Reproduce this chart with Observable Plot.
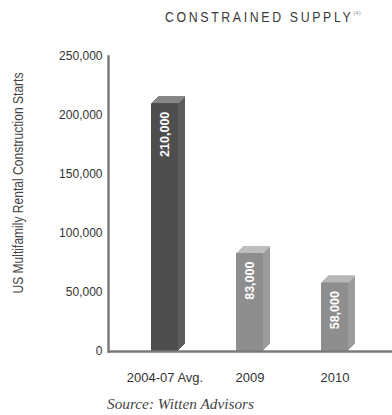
<!DOCTYPE html>
<html>
<head>
<meta charset="utf-8">
<script src="https://cdn.jsdelivr.net/npm/d3@7"></script>
<script src="https://cdn.jsdelivr.net/npm/@observablehq/plot@0.6"></script>
<style>
  html, body { margin: 0; padding: 0; background: #fff; }
  body { width: 392px; height: 415px; position: relative; overflow: hidden; }
  #title { position: absolute; left: 165px; top: 9px; font-family: "Liberation Sans", Arial, sans-serif; font-size: 14px; letter-spacing: 3px; color: #3a3a3a; white-space: nowrap; transform: scaleX(0.88); transform-origin: left center; }
  #title sup { font-size: 6px; letter-spacing: 0.5px; color: #888; vertical-align: 7px; }
  #chart { position: absolute; left: 0; top: 40px; }
  #caption { position: absolute; left: 107px; top: 395px; font-family: "Liberation Serif", "DejaVu Serif", serif; font-style: italic; font-size: 15.3px; color: #444; white-space: nowrap; }
</style>
</head>
<body>
<div id="title">CONSTRAINED SUPPLY<sup>(4)</sup></div>
<div id="chart"></div>
<div id="caption">Source: Witten Advisors</div>
<script>
const categories = ["2004-07 Avg.", "2009", "2010"];
const starts = [210000, 83000, 58000];
const yTicks = [0, 50000, 100000, 150000, 200000, 250000];
const yLabel = "US Multifamily Rental Construction Starts";

const data = categories.map((c, i) => ({cat: c, value: starts[i]}));

const front = {"2004-07 Avg.": "#4e4e4e", "2009": "#8e8e8e", "2010": "#8e8e8e"};
const side  = {"2004-07 Avg.": "#5c5c5c", "2009": "#9c9c9c", "2010": "#9c9c9c"};
const top_  = {"2004-07 Avg.": "#8a8a8a", "2009": "#bdbdbd", "2010": "#bdbdbd"};
const depth = 7;
const ks = d3.range(depth, 0, -1);

const fmt = d3.format(",");

const chart = Plot.plot({
  width: 392,
  height: 350,
  marginLeft: 108,
  marginRight: 0,
  marginTop: 16,
  marginBottom: 39,
  style: {fontFamily: "'Liberation Sans', Arial, sans-serif", background: "transparent"},
  x: {type: "band", domain: categories, range: [121, 378], paddingInner: 0.68, paddingOuter: 0.35},
  y: {domain: [0, 250000]},
  marks: [
    ...ks.map(k => Plot.rectY(data, {x: "cat", y: "value", fill: d => side[d.cat], dx: k, dy: -k})),
    ...ks.map(k => Plot.tickY(data, {x: "cat", y: "value", stroke: d => top_[d.cat], strokeWidth: 1.2, dx: k, dy: -k})),
    Plot.rectY(data, {x: "cat", y: "value", fill: d => front[d.cat]}),
    Plot.ruleY([0], {stroke: "#7a7a7a", strokeWidth: 2.5}),
    Plot.frame({anchor: "left", stroke: "#7a7a7a", strokeWidth: 2.5}),
    Plot.axisY({ticks: yTicks, tickFormat: fmt, tickSize: 0, tickPadding: 6, fontSize: 12, fill: "#333", label: null}),
    Plot.axisX({tickSize: 0, tickPadding: 21, fontSize: 13, fill: "#333", label: null}),
    Plot.text(data, {x: "cat", y: "value", text: d => fmt(d.value), rotate: -90, textAnchor: "end", dy: 8, fill: "white", fontWeight: "bold", fontSize: 12.5}),
    Plot.text([yLabel], {frameAnchor: "left", textAnchor: "middle", rotate: -90, dx: -90, dy: -21, fontSize: 14, fill: "#444"})
  ]
});
chart.querySelectorAll("text").forEach(t => {
  if (t.textContent === yLabel) {
    t.setAttribute("textLength", "221");
    t.setAttribute("lengthAdjust", "spacingAndGlyphs");
  }
});
document.getElementById("chart").appendChild(chart);
</script>
</body>
</html>
